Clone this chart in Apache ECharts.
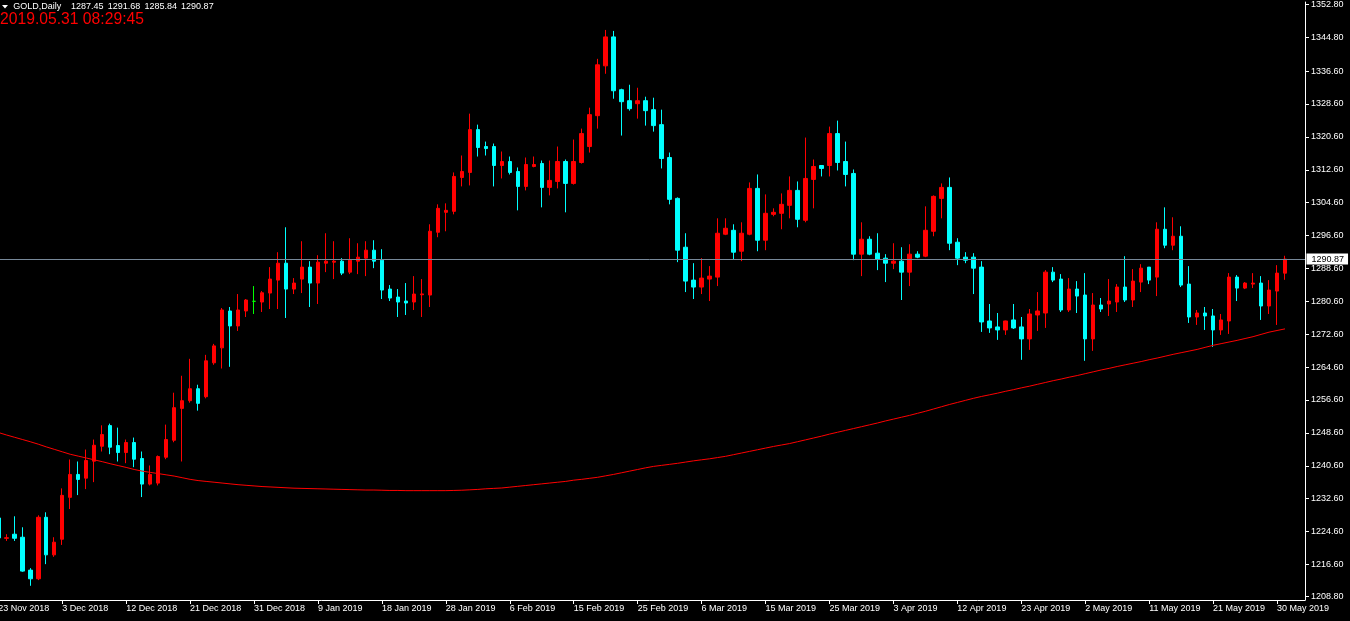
<!DOCTYPE html>
<html>
<head>
<meta charset="utf-8">
<script src="https://cdn.jsdelivr.net/npm/echarts@6/dist/echarts.min.js"></script>
<style>
html,body{margin:0;padding:0;background:#000;overflow:hidden;width:1350px;height:621px;}
#chart{position:absolute;left:-6px;top:0;width:1356px;height:621px;}
</style>
</head>
<body>
<div id="chart"></div>
<script>
// ---- data ----
const symbolTitle = 'GOLD,Daily';
const headerOHLC = ['1287.45', '1291.68', '1285.84', '1290.87'];
const timeStamp = '2019.05.31 08:29:45';
const lastPrice = 1290.87;

const tickLabels = ['23 Nov 2018','3 Dec 2018','12 Dec 2018','21 Dec 2018','31 Dec 2018','9 Jan 2019',
  '18 Jan 2019','28 Jan 2019','6 Feb 2019','15 Feb 2019','25 Feb 2019','6 Mar 2019','15 Mar 2019',
  '25 Mar 2019','3 Apr 2019','12 Apr 2019','23 Apr 2019','2 May 2019','11 May 2019','21 May 2019','30 May 2019'];

const priceTicks = [1208.8,1216.6,1224.6,1232.6,1240.6,1248.6,1256.6,1264.6,1272.6,1280.6,1288.6,
  1296.6,1304.6,1312.6,1320.6,1328.6,1336.6,1344.8,1352.8];

const opens = [
  1227.9,1222.95,1223.95,1223.22,1215.22,1213.11,1228.07,1218.93,1222.73,1232.92,1238.49,
  1237.59,1241.72,1245.35,1250.37,1245.52,1243.82,1246.25,1242.37,1236.14,1236.38,
  1242.68,1246.81,1254.56,1256.43,1259.34,1257.4,1265.64,1269.28,1278.25,1274.61,
  1278.25,1280.6,1280.43,1282.61,1285.76,1289.88,1283.58,1286.01,1288.92,1285.04,
  1289.88,1290.13,1290.37,1287.7,1290.37,1291.1,1293.04,1290.61,1283.58,1281.64,
  1280.67,1280.43,1282.2,1282.13,1297.4,1302.25,1302.49,1310.73,1311.95,1322.37,
  1318.25,1318.25,1313.64,1314.61,1312.19,1308.55,1313.4,1314.13,1308.31,1309.76,
  1314.61,1309.28,1314.37,1318.25,1325.76,1337.88,1344.92,1332.07,1329.4,1328.67,
  1329.4,1327.22,1323.58,1315.58,1305.64,1293.76,1285.76,1284.07,1286.01,1286.49,
  1296.92,1297.88,1292.79,1296.92,1308.07,1295.46,1301.76,1302.01,1303.95,1307.58,
  1300.31,1310.25,1313.64,1313.64,1321.4,1314.61,1311.7,1292.07,1295.7,1292.31,
  1291.1,1289.88,1290.37,1287.7,1292.07,1291.58,1297.64,1305.64,1308.31,1294.98,
  1291.34,1291.34,1288.92,1275.82,1274.37,1273.64,1276.07,1274.37,1271.46,1277.28,
  1277.76,1287.7,1286.01,1278.49,1283.58,1282.13,1271.46,1279.7,1279.95,1280.43,
  1284.07,1280.92,1285.28,1288.92,1286.49,1298.13,1294.25,1296.43,1284.79,1276.79,
  1277.76,1277.04,1273.64,1275.82,1286.49,1283.82,1284.79,1285.04,1279.46,1283.1,1287.45
];
const highs = [
  1228.5,1223.95,1228.31,1225.64,1215.7,1228.55,1229.28,1223.22,1235.1,1242.13,1241.64,
  1244.55,1246.98,1250.44,1250.85,1249.88,1246.98,1247.46,1244.07,1240.67,1243.1,
  1250.61,1258.37,1262.49,1266.61,1260.31,1267.58,1270.25,1278.97,1279.22,1282.37,
  1281.16,1284.31,1283.1,1288.92,1292.55,1298.61,1286.25,1295.22,1290.37,1291.82,
  1297.16,1295.22,1291.1,1295.95,1294.73,1295.22,1295.46,1293.28,1284.55,1283.58,
  1285.04,1286.73,1286.01,1299.34,1304.19,1304.43,1311.95,1316.07,1326.25,1323.58,
  1319.46,1318.98,1317.04,1315.82,1313.16,1315.58,1315.82,1314.85,1314.85,1318.25,
  1315.1,1319.95,1322.61,1327.7,1339.58,1346.61,1346.37,1332.31,1333.28,1332.55,
  1330.37,1330.13,1327.22,1316.79,1305.88,1297.16,1289.88,1291.1,1289.16,1300.79,
  1300.79,1299.34,1299.82,1309.52,1311.46,1306.61,1303.22,1306.85,1310.98,1309.76,
  1320.43,1315.1,1313.7,1323.1,1324.55,1319.46,1312.67,1299.82,1296.43,1297.16,
  1292.07,1294.73,1293.76,1294.49,1292.79,1303.7,1306.37,1309.28,1310.73,1295.95,
  1292.55,1292.31,1290.37,1279.95,1277.76,1275.9,1279.95,1276.79,1278.73,1282.85,
  1288.19,1288.92,1287.22,1286.25,1285.52,1287.46,1282.61,1281.4,1286.01,1284.79,
  1291.58,1288.43,1289.64,1288.92,1299.82,1303.46,1301.04,1298.85,1289.16,1278.49,
  1279.22,1278.73,1277.52,1287.46,1286.98,1285.28,1287.46,1286.73,1285.76,1289.4,1291.68
];
const lows = [
  1222.5,1222.32,1222.32,1214.8,1211.41,1212.79,1216.67,1218.44,1221.35,1230.08,1233.47,
  1234.93,1236.62,1244.07,1243.41,1241.64,1241.23,1240.26,1232.99,1235.82,1235.82,
  1242.2,1246.32,1241.64,1255.95,1254.01,1257.0,1265.16,1264.26,1264.67,1273.4,
  1276.79,1277.52,1278.01,1278.73,1278.73,1276.55,1282.37,1282.61,1279.22,1279.95,
  1287.7,1286.01,1286.98,1287.22,1287.22,1286.73,1288.67,1281.16,1280.67,1276.79,
  1277.28,1278.49,1276.79,1279.22,1296.19,1297.64,1301.76,1308.55,1308.79,1315.82,
  1316.07,1308.55,1310.49,1311.46,1302.73,1307.58,1313.2,1303.46,1306.37,1308.07,
  1302.25,1309.0,1314.1,1316.79,1322.61,1335.95,1329.88,1320.92,1326.98,1325.04,
  1323.34,1321.88,1312.92,1304.19,1290.13,1282.85,1281.16,1282.37,1280.67,1284.31,
  1296.7,1290.85,1290.37,1296.67,1292.79,1293.04,1301.28,1298.13,1300.79,1298.61,
  1299.82,1303.22,1310.98,1310.98,1312.43,1308.55,1290.61,1286.73,1291.82,1288.19,
  1285.28,1288.43,1280.92,1284.31,1291.1,1291.34,1296.43,1300.79,1293.04,1289.4,
  1289.88,1282.37,1273.16,1272.92,1271.22,1272.43,1273.88,1266.37,1268.79,1273.4,
  1274.13,1285.28,1278.01,1278.01,1277.76,1266.13,1268.55,1278.01,1277.04,1278.01,
  1280.43,1279.22,1282.85,1284.79,1281.88,1293.52,1293.04,1284.07,1275.34,1274.86,
  1273.64,1269.52,1272.43,1272.67,1280.67,1283.58,1283.82,1276.07,1277.52,1274.86,1285.84
];
const closes = [
  1223.05,1223.1,1222.97,1214.98,1213.11,1228.07,1218.93,1222.01,1233.4,1238.49,1237.28,
  1241.88,1245.59,1248.19,1245.11,1243.82,1246.25,1242.2,1236.14,1238.49,1242.85,
  1246.98,1254.73,1256.43,1259.34,1255.78,1266.13,1269.76,1278.49,1274.61,1278.49,
  1280.92,1280.6,1282.68,1286.01,1289.88,1283.58,1285.04,1288.92,1285.04,1290.13,
  1290.37,1290.37,1287.46,1290.61,1291.34,1293.04,1290.37,1283.34,1281.4,1280.43,
  1280.19,1282.37,1282.4,1297.64,1303.22,1302.73,1310.98,1312.19,1322.37,1318.01,
  1317.76,1313.64,1314.61,1311.95,1308.55,1313.88,1313.88,1308.31,1310.01,1314.61,
  1309.28,1314.61,1321.4,1326.01,1338.13,1344.92,1331.82,1329.16,1327.46,1329.4,
  1326.98,1323.34,1315.34,1305.4,1293.04,1285.52,1284.07,1286.25,1286.73,1297.16,
  1298.37,1292.55,1297.16,1308.07,1295.46,1302.01,1302.25,1304.19,1307.58,1300.55,
  1310.49,1313.4,1312.92,1321.4,1314.37,1311.46,1292.07,1295.7,1292.07,1290.85,
  1289.88,1290.37,1287.7,1292.07,1291.34,1297.88,1306.13,1308.31,1294.73,1291.1,
  1290.61,1288.67,1275.58,1274.13,1273.64,1275.82,1274.13,1271.46,1277.52,1278.25,
  1287.7,1285.76,1278.49,1283.58,1281.88,1271.46,1279.7,1278.73,1280.67,1284.07,
  1280.92,1285.52,1288.67,1285.76,1298.13,1294.25,1296.43,1284.55,1276.79,1277.76,
  1277.04,1273.64,1276.07,1286.49,1283.82,1285.04,1285.04,1279.46,1283.34,1287.46,1290.87
];
const movingAverage = [
  1248.7,1248.1,1247.55,1247.0,1246.45,1245.85,1245.2,1244.6,1244.0,1243.4,
  1242.95,1242.5,1242.04,1241.6,1241.1,1240.65,1240.2,1239.7,1239.3,1239.0,
  1238.7,1238.4,1238.1,1237.7,1237.3,1237.0,1236.8,1236.6,1236.4,1236.2,
  1236.0,1235.85,1235.7,1235.55,1235.45,1235.35,1235.25,1235.15,1235.1,1235.05,
  1235.0,1234.95,1234.9,1234.85,1234.8,1234.75,1234.7,1234.7,1234.65,1234.6,
  1234.6,1234.55,1234.55,1234.55,1234.55,1234.55,1234.55,1234.6,1234.65,1234.75,
  1234.85,1235.0,1235.1,1235.2,1235.4,1235.6,1235.8,1236.0,1236.2,1236.4,
  1236.6,1236.8,1237.1,1237.3,1237.55,1237.8,1238.15,1238.5,1238.9,1239.3,
  1239.7,1240.1,1240.45,1240.7,1240.95,1241.2,1241.5,1241.8,1242.05,1242.3,
  1242.6,1242.9,1243.3,1243.7,1244.1,1244.5,1244.9,1245.3,1245.65,1246.0,
  1246.45,1246.9,1247.35,1247.8,1248.3,1248.75,1249.2,1249.65,1250.1,1250.55,
  1251.0,1251.5,1251.95,1252.4,1252.85,1253.35,1253.85,1254.4,1254.95,1255.5,
  1256.0,1256.5,1257.0,1257.45,1257.85,1258.25,1258.7,1259.1,1259.55,1259.95,
  1260.4,1260.85,1261.3,1261.7,1262.15,1262.55,1263.0,1263.45,1263.9,1264.3,
  1264.75,1265.15,1265.55,1265.95,1266.4,1266.8,1267.25,1267.7,1268.1,1268.5,
  1268.9,1269.4,1269.9,1270.3,1270.7,1271.1,1271.55,1272.0,1272.55,1273.1,
  1273.5,1273.9
];

// ---- build ----
const BARS_PER_TICK = 8;
const EMPTY_SLOTS = 2;
const OFFSET = 6; // container is shifted 6px left so the first (partial) bar is cut at the page edge
const categories = [];
for (let i = 0; i < opens.length + EMPTY_SLOTS; i++) categories.push(String(i));
const candleData = opens.map((o, i) => [o, closes[i], lows[i], highs[i]]);

const FONT = '"Liberation Sans", Arial, sans-serif';
const chart = echarts.init(document.getElementById('chart'), null, {renderer: 'canvas'});

const isTick = (idx) => idx % BARS_PER_TICK === 0 && idx / BARS_PER_TICK < tickLabels.length;

const headerGraphics = [
  {type: 'polygon', shape: {points: [[OFFSET + 2, 5], [OFFSET + 8, 5], [OFFSET + 5, 8.5]]}, style: {fill: '#ffffff'}},
  {type: 'text', x: OFFSET + 13.3, y: 6.5, style: {text: symbolTitle, fill: '#ffffff', font: '9px ' + FONT, verticalAlign: 'middle'}},
  {type: 'text', x: OFFSET, y: 20, style: {text: timeStamp, fill: '#ff0000', font: '15.7px ' + FONT, verticalAlign: 'middle'}}
];
headerOHLC.forEach((t, i) => {
  headerGraphics.push({type: 'text', x: OFFSET + 71 + i * 36.7, y: 6.5,
    style: {text: t, fill: '#ffffff', font: '9px ' + FONT, verticalAlign: 'middle'}});
});

chart.setOption({
  backgroundColor: '#000000',
  animation: false,
  grid: {left: 0.3, right: 45, top: 0, bottom: 21},
  xAxis: {
    type: 'category',
    data: categories,
    boundaryGap: true,
    axisLine: {show: true, lineStyle: {color: '#ffffff', width: 1}},
    axisTick: {show: true, alignWithLabel: true, length: 4, interval: (idx) => isTick(idx), lineStyle: {color: '#ffffff'}},
    axisLabel: {
      show: true, interval: (idx) => isTick(idx), align: 'left', margin: 4,
      color: '#ffffff', fontSize: 9, fontFamily: FONT,
      formatter: (v, idx) => isTick(idx) ? tickLabels[idx / BARS_PER_TICK] : ''
    },
    splitLine: {show: false}
  },
  yAxis: {
    type: 'value',
    position: 'right',
    min: 1207.95,
    max: 1353.4,
    axisLine: {show: true, lineStyle: {color: '#ffffff', width: 1}},
    axisTick: {show: true, length: 4, customValues: priceTicks, lineStyle: {color: '#ffffff'}},
    axisLabel: {
      show: true, customValues: priceTicks, margin: 6, color: '#ffffff', fontSize: 9, fontFamily: FONT,
      formatter: (v) => Number(v).toFixed(2)
    },
    splitLine: {show: false}
  },
  graphic: headerGraphics,
  series: [
    {
      type: 'candlestick',
      data: candleData,
      barWidth: 4,
      itemStyle: {
        color: '#ff0000', color0: '#00ffff',
        borderColor: '#ff0000', borderColor0: '#00ffff',
        borderColorDoji: '#00ff00', borderWidth: 1
      },
      markLine: {
        silent: true,
        symbol: ['none', 'none'],
        lineStyle: {color: '#778899', width: 1, type: 'solid'},
        label: {
          show: true, position: 'end', distance: 1.5,
          backgroundColor: '#ffffff', color: '#000000',
          fontSize: 9, fontFamily: FONT, padding: [1, 4, 1, 5],
          formatter: () => lastPrice.toFixed(2)
        },
        data: [{yAxis: lastPrice}]
      },
      z: 2
    },
    {
      type: 'line',
      data: movingAverage,
      showSymbol: false,
      symbol: 'none',
      lineStyle: {color: '#ff0000', width: 1},
      z: 3
    }
  ]
});
</script>
</body>
</html>
